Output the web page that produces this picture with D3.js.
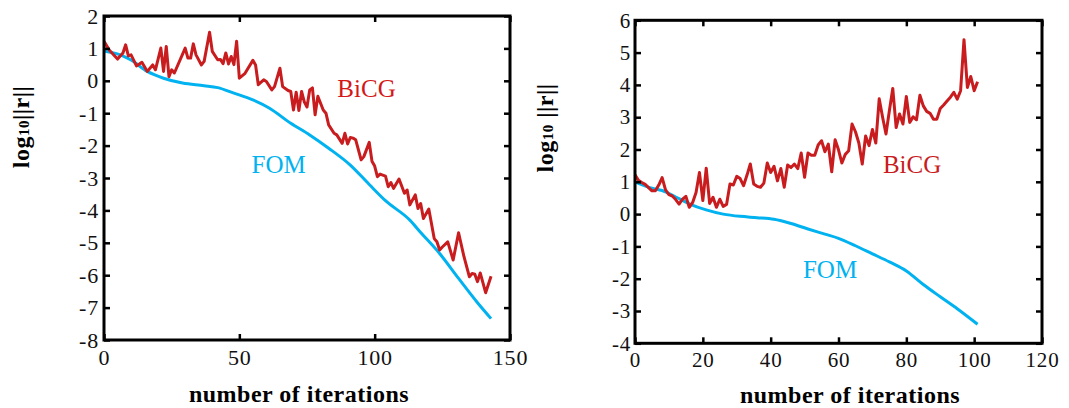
<!DOCTYPE html>
<html>
<head>
<meta charset="utf-8">
<script src="https://cdn.jsdelivr.net/npm/d3@7"></script>
<style>
  body { margin: 0; background: #fff; }
  svg, svg text { font-family: "Liberation Serif", "Times New Roman", serif; }
</style>
</head>
<body>
<div class="chart-container"></div>
<script>
// left panel: log10 of the residual norm per iteration
const leftBicgIter = [0, 2, 5, 7, 8, 9, 10, 12, 14, 16, 18, 19, 21, 22, 23, 24, 25, 26, 30, 31, 32, 33, 34, 36, 37, 39, 40, 42, 43, 44, 45, 46, 47, 48, 49, 50, 52, 55, 56, 57, 59, 60, 62, 63, 65, 66, 68, 69, 70, 71, 72, 73, 74, 75, 76, 77, 78, 79, 81, 82, 83, 85, 86, 88, 89, 90, 91, 92, 93, 95, 96, 98, 99, 100, 101, 102, 104, 105, 106, 107, 109, 111, 112, 113, 115, 116, 117, 118, 120, 122, 123, 124, 125, 127, 129, 131, 133, 135, 136, 137, 138, 139, 141, 143];
const leftBicgLog = [1.22, 0.94, 0.67, 0.86, 1.11, 0.77, 0.8, 0.46, 0.57, 0.29, 0.49, 0.34, 1.01, 0.29, 1.06, 0.13, 0.34, 0.24, 1.01, 0.7, 0.7, 1.14, 0.8, 0.49, 0.6, 1.5, 0.91, 0.65, 0.66, 0.53, 0.86, 0.52, 0.75, 0.5, 1.22, 0.08, 0.22, 0.63, 0.49, -0.12, 0.03, -0.02, -0.28, -0.18, 0.39, -0.18, -0.3, -0.33, -0.9, -0.35, -0.92, -0.33, -0.65, -0.81, -0.28, -0.22, -1.05, -0.48, -0.9, -1.0, -1.36, -1.62, -1.67, -1.93, -1.62, -1.95, -1.75, -1.77, -1.82, -2.44, -2.34, -1.9, -2.48, -2.63, -2.96, -2.88, -2.94, -3.27, -3.14, -3.32, -3.03, -3.47, -3.37, -3.83, -3.52, -3.94, -3.79, -4.25, -3.96, -4.87, -4.97, -5.22, -5.13, -4.97, -5.53, -4.69, -5.43, -6.05, -5.95, -5.97, -6.2, -5.93, -6.54, -6.03];
const leftFomIter = [0, 6, 10, 16, 22, 29, 37, 42, 48, 55, 61, 69, 76, 83, 91, 98, 104, 113, 117, 124, 131, 138, 143];
const leftFomLog = [0.92, 0.8, 0.64, 0.29, 0.08, -0.07, -0.15, -0.21, -0.38, -0.59, -0.84, -1.31, -1.67, -2.08, -2.6, -3.2, -3.7, -4.3, -4.68, -5.33, -6.1, -6.85, -7.34];
const leftXTicks = [0, 50, 100, 150];
const leftYTicks = [2, 1, 0, -1, -2, -3, -4, -5, -6, -7, -8];

// right panel
const rightBicgIter = d3.range(0, 102);
const rightBicgLog = [1.22, 1.05, 0.98, 0.92, 0.82, 0.72, 0.72, 0.9, 1.13, 0.75, 0.6, 0.56, 0.45, 0.31, 0.46, 0.55, 0.21, 0.36, 0.67, 1.29, 0.42, 1.42, 0.33, 0.52, 0.21, 0.46, 0.24, 0.3, 0.93, 0.9, 1.17, 1.1, 0.88, 1.2, 1.55, 0.93, 0.86, 0.83, 0.96, 1.58, 1.29, 1.48, 1.03, 1.41, 0.83, 1.52, 1.44, 1.55, 1.41, 1.89, 1.14, 1.89, 1.82, 1.82, 2.14, 2.27, 1.93, 2.17, 1.31, 2.3, 1.99, 1.58, 1.85, 1.96, 2.79, 2.55, 2.2, 1.55, 2.42, 2.12, 2.62, 2.2, 3.57, 3.0, 2.48, 3.2, 3.89, 2.68, 3.1, 2.79, 3.64, 2.84, 3.01, 2.92, 3.68, 3.35, 3.18, 3.12, 2.94, 2.94, 3.27, 3.38, 3.5, 3.62, 3.77, 3.56, 3.82, 5.4, 3.92, 4.26, 3.82, 4.1];
const rightFomIter = [0, 5, 8, 12, 16, 21, 26, 31, 36, 41, 46, 51, 56, 60, 65, 70, 75, 80, 85, 90, 95, 101];
const rightFomLog = [1.0, 0.8, 0.73, 0.53, 0.32, 0.13, 0.0, -0.07, -0.11, -0.16, -0.29, -0.46, -0.62, -0.75, -0.98, -1.23, -1.48, -1.76, -2.18, -2.56, -2.93, -3.41];
const rightXTicks = [0, 20, 40, 60, 80, 100, 120];
const rightYTicks = [6, 5, 4, 3, 2, 1, 0, -1, -2, -3, -4];

const bicgColor = '#c81c1e';
const fomColor = '#00b2f0';
const serif = '"Liberation Serif", "Times New Roman", serif';

const svg = d3.select('.chart-container')
  .append('svg')
  .attr('width', 1069)
  .attr('height', 408)
  .attr('font-family', serif);

function drawPanel(p) {
  const x = d3.scaleLinear().domain(p.xDomain).range([p.left, p.right]);
  const y = d3.scaleLinear().domain(p.yDomain).range([p.bottom, p.top]);
  const g = svg.append('g');

  const line = d3.line().x(d => x(d[0])).y(d => y(d[1]));

  // fom first, bicg drawn over it
  g.append('path')
    .datum(d3.zip(p.fomIter, p.fomLog))
    .attr('fill', 'none')
    .attr('stroke', fomColor)
    .attr('stroke-width', 3)
    .attr('d', line.curve(d3.curveMonotoneX));

  g.append('path')
    .datum(d3.zip(p.bicgIter, p.bicgLog))
    .attr('fill', 'none')
    .attr('stroke', bicgColor)
    .attr('stroke-width', 3)
    .attr('stroke-linejoin', 'round')
    .attr('d', line.curve(d3.curveLinear));

  // inward ticks on all four sides
  const tick = 6;
  const fmt = d => String(d);
  const axes = [
    g.append('g').attr('transform', `translate(0,${p.bottom})`)
      .call(d3.axisBottom(x).tickValues(p.xTicks).tickSize(-tick).tickSizeOuter(0).tickPadding(p.xPad).tickFormat(fmt)),
    g.append('g').attr('transform', `translate(0,${p.top})`)
      .call(d3.axisTop(x).tickValues(p.xTicks).tickSize(-tick).tickSizeOuter(0).tickFormat('')),
    g.append('g').attr('transform', `translate(${p.left},0)`)
      .call(d3.axisLeft(y).tickValues(p.yTicks).tickSize(-tick).tickSizeOuter(0).tickPadding(p.yPad).tickFormat(fmt)),
    g.append('g').attr('transform', `translate(${p.right},0)`)
      .call(d3.axisRight(y).tickValues(p.yTicks).tickSize(-tick).tickSizeOuter(0).tickFormat(''))
  ];
  axes.forEach(a => {
    a.attr('font-family', serif).attr('font-size', p.tickFont);
    a.select('.domain').remove();
    a.selectAll('line').attr('stroke', '#000').attr('stroke-width', 2.5);
    a.selectAll('text')
      .attr('letter-spacing', 0.8)
      .attr('fill', '#111');
  });

  // frame
  g.append('rect')
    .attr('x', p.left)
    .attr('y', p.top)
    .attr('width', p.right - p.left)
    .attr('height', p.bottom - p.top)
    .attr('fill', 'none')
    .attr('stroke', '#000')
    .attr('stroke-width', 3);

  // series labels
  g.append('text')
    .attr('x', x(p.bicgAt[0]))
    .attr('y', y(p.bicgAt[1]))
    .attr('text-anchor', 'middle')
    .attr('font-size', 25)
    .attr('fill', p.bicgText)
    .text('BiCG');

  g.append('text')
    .attr('x', x(p.fomAt[0]))
    .attr('y', y(p.fomAt[1]))
    .attr('text-anchor', 'middle')
    .attr('font-size', 25)
    .attr('fill', fomColor)
    .text('FOM');

  // axis titles
  g.append('text')
    .attr('x', p.xTitle[0])
    .attr('y', p.xTitle[1])
    .attr('text-anchor', 'middle')
    .attr('font-size', 24)
    .attr('font-weight', 'bold')
    .attr('letter-spacing', 0.5)
    .text('number of iterations');

  const yt = g.append('text')
    .attr('transform', `translate(${p.yTitle[0]},${p.yTitle[1]}) rotate(-90)`)
    .attr('text-anchor', 'middle')
    .attr('font-size', 24)
    .attr('font-weight', 'bold')
    .attr('letter-spacing', 0.5);
  yt.append('tspan').text('log');
  yt.append('tspan').attr('font-size', 15).text('10');
  yt.append('tspan').text(p.gap + '||r||');
}

drawPanel({
  xDomain: [0, 150], yDomain: [-8, 2],
  left: 104, right: 510, top: 16, bottom: 340,
  xTicks: leftXTicks, yTicks: leftYTicks,
  bicgIter: leftBicgIter, bicgLog: leftBicgLog,
  fomIter: leftFomIter, fomLog: leftFomLog,
  xPad: 9, yPad: 5, tickFont: 22,
  bicgAt: [97, -0.49], fomAt: [64.5, -2.84], bicgText: '#d41818',
  xTitle: [299, 402], yTitle: [29, 127], gap: ''
});

drawPanel({
  xDomain: [0, 120], yDomain: [-4, 6],
  left: 635, right: 1042, top: 20.3, bottom: 343.3,
  xTicks: rightXTicks, yTicks: rightYTicks,
  bicgIter: rightBicgIter, bicgLog: rightBicgLog,
  fomIter: rightFomIter, fomLog: rightFomLog,
  xPad: 9, yPad: 4, tickFont: 21,
  bicgAt: [81.7, 1.27], fomAt: [57.5, -1.98], bicgText: '#c81c1e',
  xTitle: [850, 403], yTitle: [553, 128], gap: ' '
});
</script>
</body>
</html>
